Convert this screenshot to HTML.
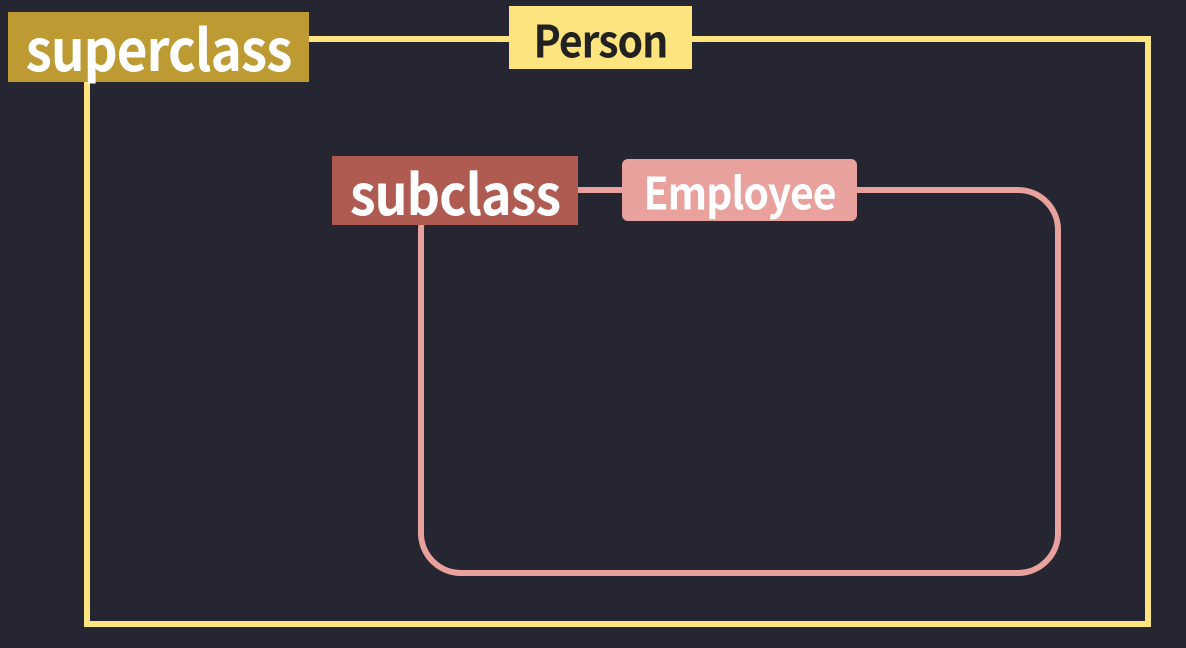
<!DOCTYPE html>
<html><head><style>
html,body{margin:0;padding:0;background:#252631;width:1186px;height:648px;overflow:hidden;position:relative;font-family:"Noto Sans CJK SC","Liberation Sans",sans-serif}
.b{position:absolute;display:flex;align-items:center;justify-content:center;box-sizing:border-box;font-weight:bold;letter-spacing:-1px}
.b span{display:inline-block;transform:scaleY(1.08)}
</style></head><body>
<svg width="1186" height="648" style="position:absolute;left:0;top:0">
<rect x="87" y="39" width="1061" height="585" fill="none" stroke="#fde47f" stroke-width="6"/>
<rect x="421" y="190" width="637" height="383" rx="40" fill="none" stroke="#e8a19c" stroke-width="6"/>
<line x1="578" y1="190" x2="622" y2="190" stroke="#e8a19c" stroke-width="6"/>
</svg>
<div class="b" style="left:8px;top:12px;width:301px;height:70px;background:#bd9a32;color:#fff;font-size:53px;"><span>superclass</span></div>
<div class="b" style="left:509px;top:6px;width:183px;height:63px;background:#fde47f;color:#222;font-size:41px;"><span>Person</span></div>
<div class="b" style="left:332px;top:156px;width:246px;height:69px;background:#b05b52;color:#fff;font-size:52px;"><span>subclass</span></div>
<div class="b" style="left:622px;top:159px;width:235px;height:62px;background:#e8a19c;color:#fff;font-size:41px;border-radius:6px;"><span>Employee</span></div>
</body></html>
